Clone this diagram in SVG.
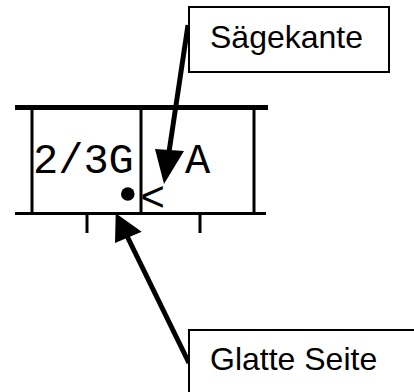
<svg xmlns="http://www.w3.org/2000/svg" width="414" height="392" viewBox="0 0 414 392">
<style>
.ln{stroke:#000;fill:none}
.mono{font-family:"Liberation Mono","Courier New",monospace;font-size:42px;fill:#000}
.lbl{font-family:"Liberation Sans",Arial,sans-serif;font-size:32px;fill:#000}
.box{fill:#fff;stroke:#000;stroke-width:2}
.arr{stroke:#000;stroke-width:5;fill:none}
.head{fill:#000}
</style>
<rect width="414" height="392" fill="#fff"/>
<g id="saw">
<line class="ln" x1="15" y1="107.5" x2="268" y2="107.5" stroke-width="5"/>
<line class="ln" x1="15" y1="213.5" x2="266" y2="213.5" stroke-width="3"/>
<line class="ln" x1="32" y1="107" x2="32" y2="213" stroke-width="3"/>
<line class="ln" x1="141" y1="107" x2="141" y2="213" stroke-width="3"/>
<line class="ln" x1="254" y1="107" x2="254" y2="213" stroke-width="3"/>
<line class="ln" x1="87" y1="213" x2="87" y2="233" stroke-width="3"/>
<line class="ln" x1="200" y1="213" x2="200" y2="233" stroke-width="3"/>
<text class="mono" x="33" y="173">2/3G</text>
<text class="mono" x="185" y="173">A</text>
<circle cx="127.8" cy="194" r="6.8" fill="#000"/>
<text class="mono" x="140" y="211">&lt;</text>
</g>
<g id="connectors">
<line class="arr" x1="188" y1="25" x2="169" y2="152"/>
<polygon class="head" points="164,184 155,149 184,151"/>
<line class="arr" x1="189" y1="363" x2="127" y2="236"/>
<polygon class="head" points="115.7,213.3 115,243 141.7,231.7"/>
</g>
<g id="saegekante">
<rect class="box" x="189" y="7" width="200" height="65"/>
<text class="lbl" x="210" y="48">Sägekante</text>
</g>
<g id="glatte">
<rect class="box" x="189" y="330" width="230" height="70"/>
<text class="lbl" x="210" y="370">Glatte Seite</text>
</g>
</svg>
